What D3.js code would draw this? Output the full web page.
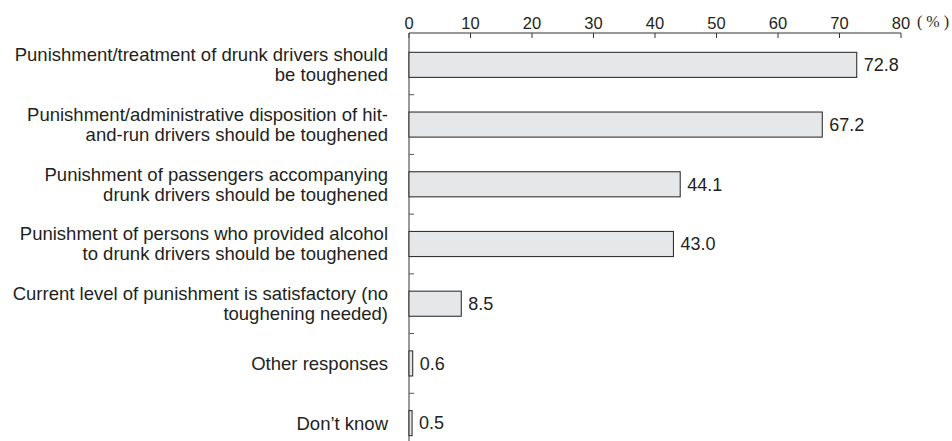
<!DOCTYPE html>
<html>
<head>
<meta charset="utf-8">
<script src="https://cdn.jsdelivr.net/npm/d3@7"></script>
<style>
  html, body { margin: 0; padding: 0; background: #fff; }
  svg { display: block; }
  text { font-family: "Liberation Sans", Arial, Helvetica, sans-serif; fill: #231f20; }
</style>
</head>
<body>
<svg id="chart" width="952" height="441"></svg>
<script>
// Survey responses on toughening penalties for drunk driving (multiple answers, %)
const categories = [
  ["Punishment/treatment of drunk drivers should", "be toughened"],
  ["Punishment/administrative disposition of hit-", "and-run drivers should be toughened"],
  ["Punishment of passengers accompanying", "drunk drivers should be toughened"],
  ["Punishment of persons who provided alcohol", "to drunk drivers should be toughened"],
  ["Current level of punishment is satisfactory (no", "toughening needed)"],
  ["Other responses"],
  ["Don\u2019t know"]
];
const values = [72.8, 67.2, 44.1, 43.0, 8.5, 0.6, 0.5];
const xTicks = [0, 10, 20, 30, 40, 50, 60, 70, 80];
const unitLabel = "( % )";

const svg = d3.select("#chart");
const plotLeft = 409, plotRight = 901, plotTop = 33, plotBottom = 453;

const x = d3.scaleLinear().domain([0, 80]).range([plotLeft, plotRight]);
const y = d3.scaleBand()
  .domain(d3.range(categories.length))
  .range([plotTop + 2, plotBottom])
  .paddingInner(0.58)
  .paddingOuter(0.29);

// top axis
const gx = svg.append("g").attr("transform", `translate(0,${plotTop})`);
gx.append("line")
  .attr("x1", plotLeft).attr("x2", plotRight)
  .attr("stroke", "#333").attr("stroke-width", 1);
gx.selectAll("line.tick").data(xTicks).join("line")
  .attr("class", "tick")
  .attr("x1", d => x(d)).attr("x2", d => x(d))
  .attr("y1", 0).attr("y2", 5)
  .attr("stroke", "#333").attr("stroke-width", 1);
gx.selectAll("text").data(xTicks).join("text")
  .attr("x", d => x(d)).attr("y", -4.5)
  .attr("text-anchor", "middle")
  .style("font-size", "16.5px")
  .text(d => d);
gx.append("text")
  .attr("x", x(80) + 16).attr("y", -6)
  .style("font-size", "16px")
  .style("font-family", "'Liberation Serif', serif")
  .style("white-space", "pre")
  .text(unitLabel);

// left axis with separator ticks between categories
svg.append("line")
  .attr("x1", plotLeft).attr("x2", plotLeft)
  .attr("y1", plotTop).attr("y2", 441)
  .attr("stroke", "#555").attr("stroke-width", 1.2);
const step = y.step();
const seps = d3.range(1, categories.length).map(i => y(i) - (step - y.bandwidth()) / 2);
svg.selectAll("line.sep").data(seps).join("line")
  .attr("class", "sep")
  .attr("x1", plotLeft).attr("x2", plotLeft + 5)
  .attr("y1", d => d).attr("y2", d => d)
  .attr("stroke", "#555").attr("stroke-width", 1);

// bars
svg.selectAll("rect.bar").data(values).join("rect")
  .attr("class", "bar")
  .attr("x", x(0))
  .attr("y", (d, i) => y(i))
  .attr("width", d => x(d) - x(0))
  .attr("height", y.bandwidth())
  .attr("fill", "#e6e7e8")
  .attr("stroke", "#333")
  .attr("stroke-width", 1.1);

// value labels
svg.selectAll("text.val").data(values).join("text")
  .attr("class", "val")
  .attr("x", d => x(d) + 7)
  .attr("y", (d, i) => y(i) + y.bandwidth() / 2)
  .attr("dy", "0.35em")
  .style("font-size", "18px")
  .text(d => d.toFixed(1));

// category labels
const lab = svg.selectAll("text.cat").data(categories).join("text")
  .attr("class", "cat")
  .attr("text-anchor", "end")
  .style("font-size", "18.5px");
lab.each(function (lines, i) {
  const cy = y(i) + y.bandwidth() / 2;
  const lh = 20;
  const y0 = cy - (lines.length - 1) * lh / 2;
  d3.select(this).selectAll("tspan").data(lines).join("tspan")
    .attr("x", 388)
    .attr("y", (d, k) => y0 + k * lh)
    .attr("dy", "0.35em")
    .text(d => d);
});
</script>
</body>
</html>
